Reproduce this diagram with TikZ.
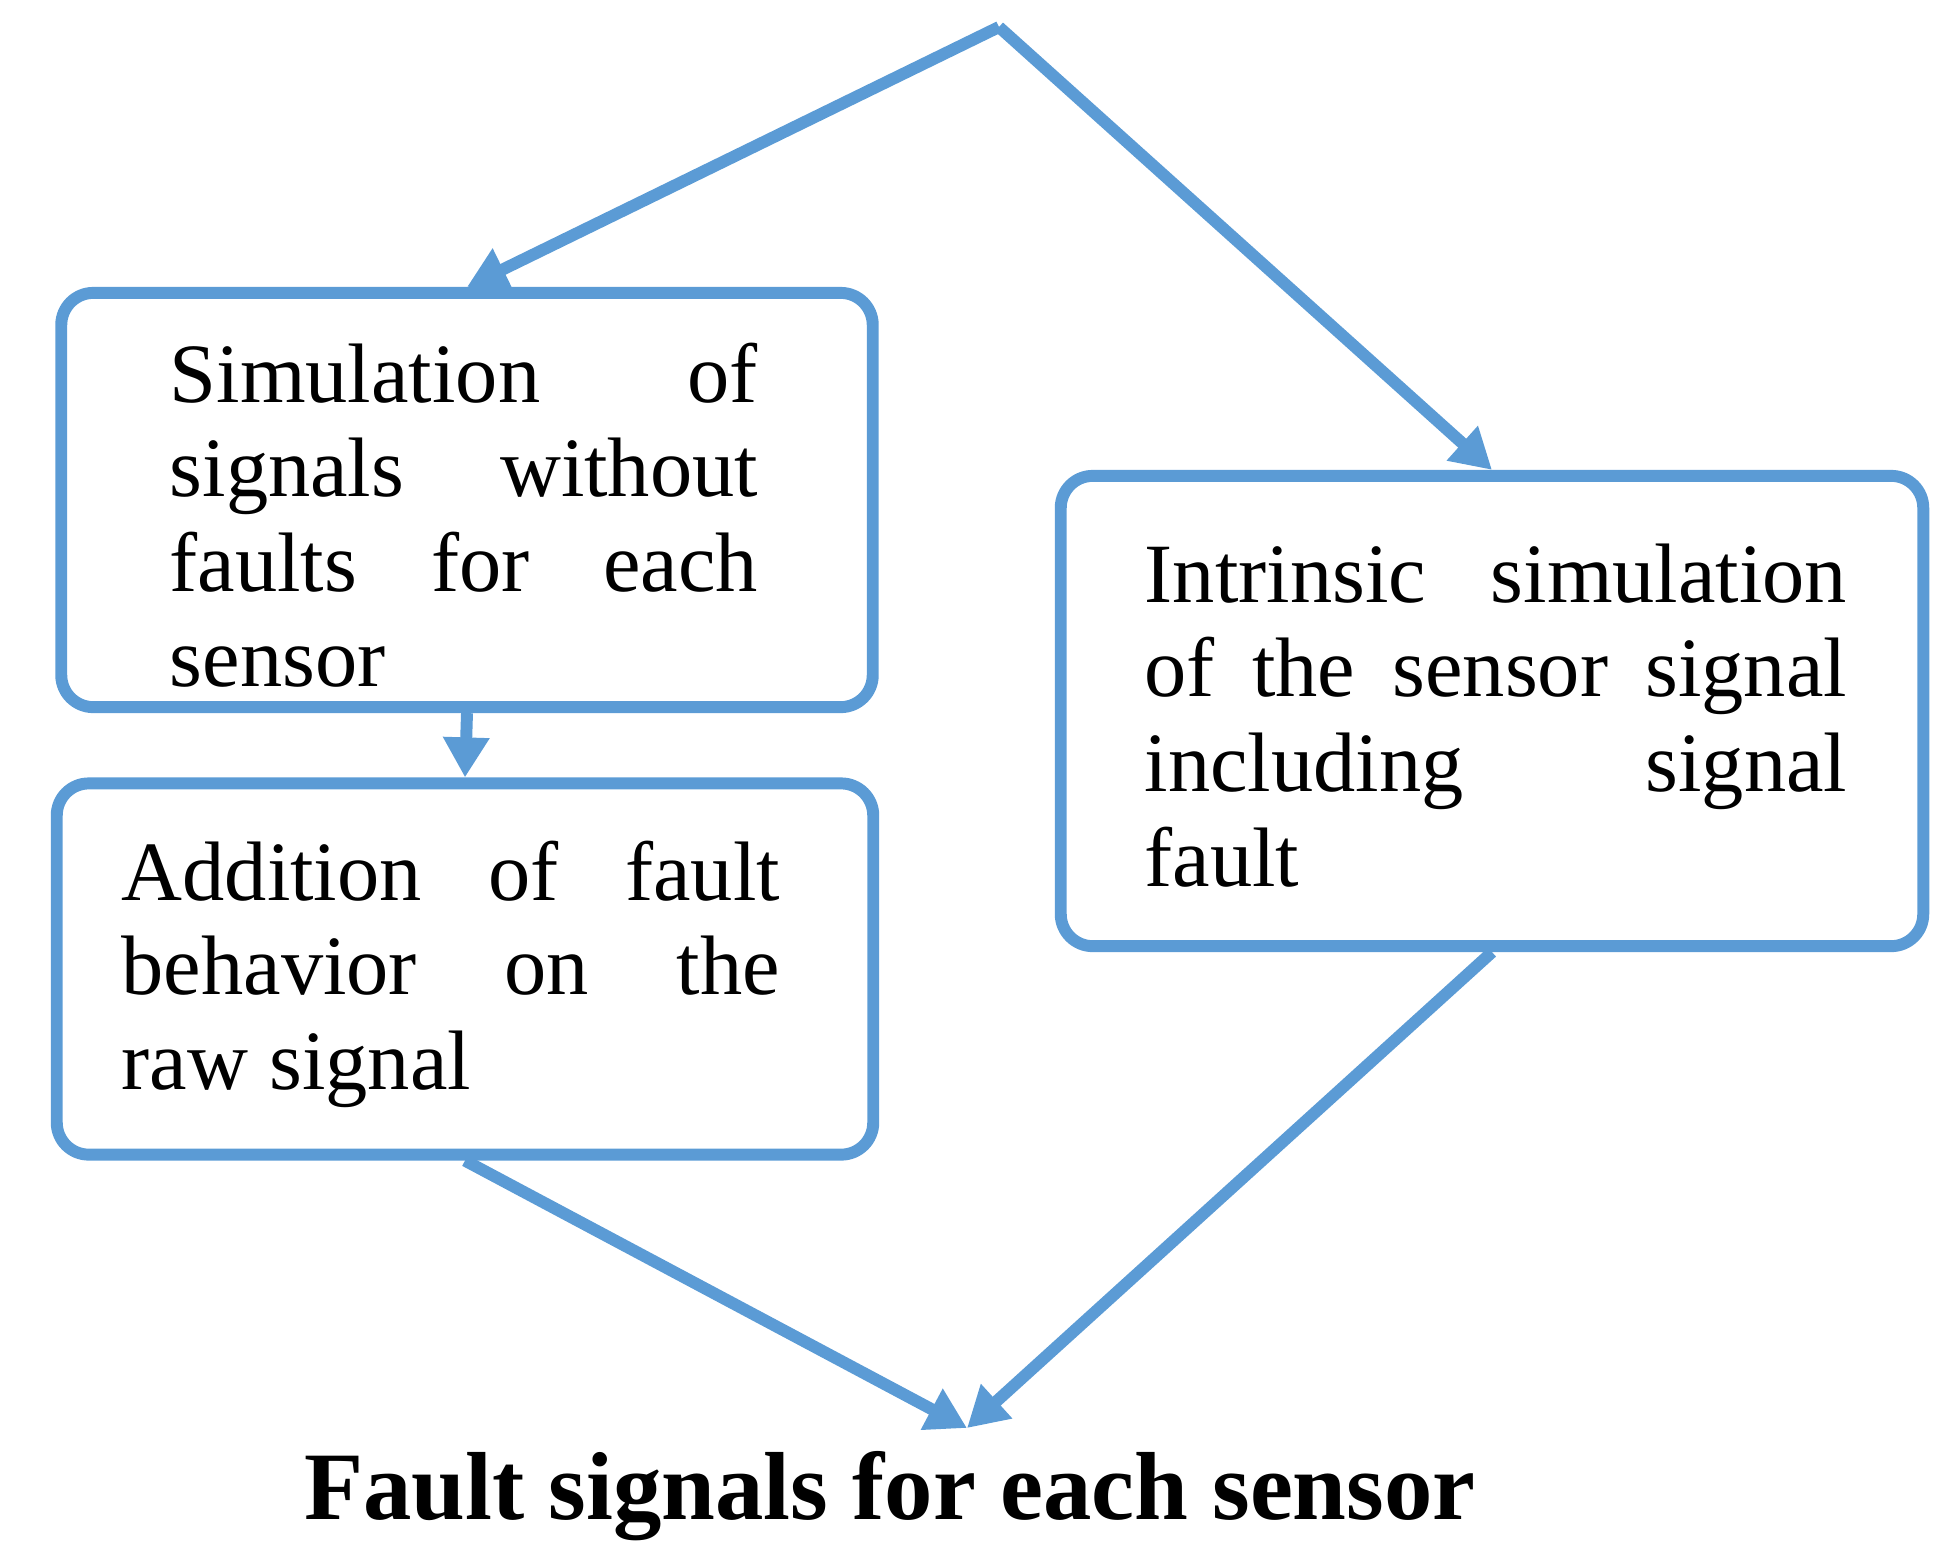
\documentclass[tikz,border=0pt]{standalone}
\usepackage{fontspec}
\setmainfont{Liberation Serif}
\usetikzlibrary{arrows.meta}
\definecolor{flowblue}{RGB}{91,155,213}

\begin{document}
\begin{tikzpicture}[x=0.01cm,y=-0.01cm,
        box/.style={draw=flowblue, line width=3.4pt, rounded corners=0.32cm, inner sep=0pt},
        boxtext/.style={anchor=base west, align=justify, inner sep=0pt, font=\fontsize{24}{27}\selectfont},
        flow/.style={draw=flowblue, line width=3.4pt, -{Triangle[length=0.4cm,width=0.44cm]}}]
    \useasboundingbox (0,0) rectangle (1939,1541);

    \coordinate (src) at (999,27);
    \coordinate (sink) at (967,1428);

    \node[box, minimum width=8.11cm, minimum height=4.14cm] (sim) at (467,500) {};
    \node[box, minimum width=8.16cm, minimum height=3.71cm] (add) at (465,969) {};
    \node[box, minimum width=8.62cm, minimum height=4.70cm] (intr) at (1492,711) {};

    \node[boxtext, text width=5.88cm] (simtext) at (169,402)
        {Simulation of\linebreak signals without\linebreak faults for each\linebreak sensor};
    \node[boxtext, text width=6.58cm] (addtext) at (121,900)
        {Addition of fault\linebreak behavior on the\linebreak raw signal};
    \node[boxtext, text width=7.02cm] (intrtext) at (1144,602)
        {Intrinsic simulation\linebreak of the sensor signal\linebreak including signal\linebreak fault};

    \node[anchor=base, inner sep=0pt, font=\bfseries\fontsize{27.5}{32}\selectfont] (out) at (890,1519)
        {Fault signals for each sensor};

    \draw[flow] (src) -- (sim.north);
    \draw[flow] (src) -- (intr.north);
    \draw[flow] (sim.south) -- (add.north);
    \draw[flow] (add.south) -- (sink);
    \draw[flow] (intr.south) -- (sink);
\end{tikzpicture}
\end{document}
